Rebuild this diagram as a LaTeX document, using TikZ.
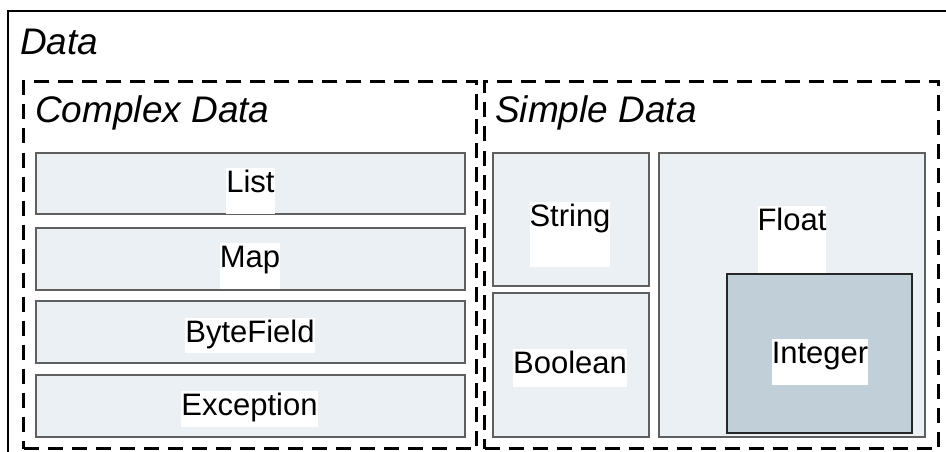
\documentclass[tikz,border=0pt]{standalone}
\usepackage{fontspec}
\setmainfont{Liberation Sans}
\definecolor{lightbox}{RGB}{235,240,244}
\definecolor{intbox}{RGB}{193,208,216}
\definecolor{boxline}{RGB}{95,95,95}
\tikzset{
  box/.style={draw=boxline, line width=1.5pt, fill=lightbox, inner sep=0pt, anchor=north west},
  intstyle/.style={draw=black!85, line width=1.5pt, fill=intbox, inner sep=0pt, anchor=north west},
  dashbox/.style={draw=black, line width=3pt, dash pattern=on 15pt off 9pt, inner sep=0pt, anchor=north west},
  lbl/.style={fill=white, inner sep=0pt, anchor=base, text height=24pt, font=\fontsize{31}{36}\selectfont},
  head/.style={inner sep=0pt, anchor=base west, font=\fontsize{37}{42}\selectfont\itshape}
}
\begin{document}
\begin{tikzpicture}[x=1pt,y=-1pt]
\useasboundingbox (0,0) rectangle (946,452);
% outer Data frame (cropped at right and bottom)
\coordinate (outTR) at (946,11);
\coordinate (outTL) at (8,11);
\coordinate (outBL) at (8,452);
\draw[line width=1.5pt] (outTR) -- (outTL) -- (outBL);
\node[head] (data) at (20,55) {Data};
% dashed groups
\node[dashbox, minimum width=453pt, minimum height=367pt] (complex) at (22,80) {};
\node[dashbox, minimum width=454pt, minimum height=367pt] (simple) at (483,80) {};
\node[head] (complexlbl) at (35,123) {Complex Data};
\node[head] (simplelbl) at (495,123) {Simple Data};
% complex data boxes
\node[box, minimum width=429pt, minimum height=61pt] (list) at (35,152) {};
\node[box, minimum width=429pt, minimum height=62pt] (map) at (35,227) {};
\node[box, minimum width=429pt, minimum height=62pt] (bytefield) at (35,300) {};
\node[box, minimum width=429pt, minimum height=62pt] (exception) at (35,374) {};
% simple data boxes
\node[box, minimum width=156pt, minimum height=133pt] (string) at (492,152) {};
\node[box, minimum width=156pt, minimum height=144pt] (boolean) at (492,292) {};
\node[box, minimum width=266pt, minimum height=284pt] (float) at (658,152) {};
% labels
\node[lbl, text depth=22pt] (listt) at (250.5,192) {List};
\node[lbl, text depth=22pt] (mapt) at (250,267) {Map};
\node[lbl, text depth=11pt] (bytefieldt) at (250,342) {ByteField};
\node[lbl, text depth=12pt] (exceptiont) at (249.5,415) {Exception};
\node[lbl, text depth=41pt] (stringt) at (570,226) {String};
\node[lbl, text depth=43pt] (floatt) at (792,230) {Float};
\node[lbl, text depth=14pt] (booleant) at (570,373) {Boolean};
\node[intstyle, minimum width=185pt, minimum height=159pt] (integer) at (726,273) {};
\node[lbl, text depth=22pt] (integert) at (820,363) {Integer};
\end{tikzpicture}
\end{document}
